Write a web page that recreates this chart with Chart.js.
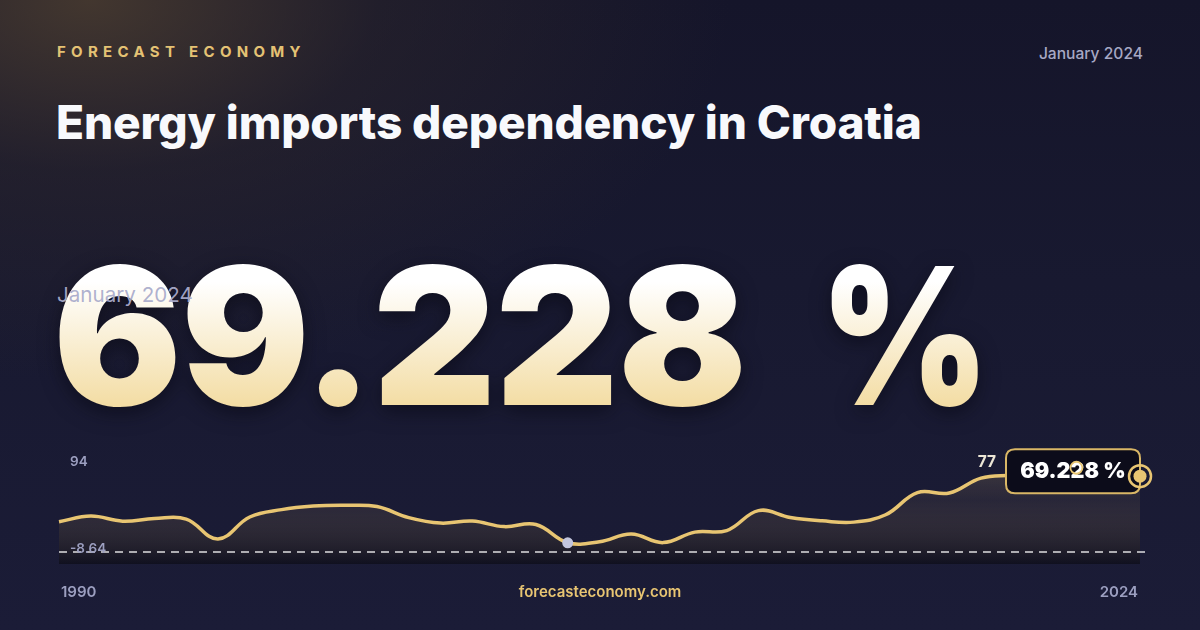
<!DOCTYPE html>
<html>
<head>
<meta charset="utf-8">
<script src="https://cdn.jsdelivr.net/npm/chart.js@4.4.1/dist/chart.umd.min.js"></script>
<style>
  html, body { margin: 0; padding: 0; }
  body { width: 1200px; height: 630px; overflow: hidden; font-family: Inter, "Noto Sans", sans-serif; }
  .card {
    position: relative; width: 1200px; height: 630px; overflow: hidden;
    background:
      radial-gradient(ellipse 640px 380px at 90px 0px, rgba(78, 63, 48, 0.8) 0%, rgba(48, 41, 44, 0.45) 45%, rgba(30, 28, 45, 0) 100%),
      linear-gradient(180deg, #15152a 0%, #181930 45%, #1b1c37 100%);
  }
  .brand { position: absolute; left: 57px; top: 42px; font-size: 15px; font-weight: 700; letter-spacing: 5.3px; color: #e4c274; }
  .date-top { position: absolute; right: 57px; top: 44px; font-size: 15.6px; font-weight: 500; color: #a6a8c4; }
  .title { position: absolute; left: 56px; top: 94px; font-size: 46px; font-weight: 800; color: #f8f9fc; letter-spacing: -0.15px; white-space: nowrap; }
  .big {
    position: absolute; left: 53px; top: 240px; font-size: 191px; font-weight: 900; line-height: 1; letter-spacing: -1px; white-space: nowrap;
    filter: drop-shadow(0 6px 10px rgba(5, 5, 15, 0.55));
  }
  .big span {
    display: inline-block;
    background: linear-gradient(180deg, #ffffff 22%, #f3dca2 88%);
    -webkit-background-clip: text; background-clip: text; color: transparent;
  }
  .big .pct { margin-left: 74px; transform: scaleX(0.85); transform-origin: left center; }
  .date-over { position: absolute; left: 57px; top: 282px; font-size: 20.6px; font-weight: 400; color: rgba(170, 172, 204, 0.95); }
  #chart { position: absolute; left: 0; top: 420px; }
</style>
</head>
<body>
<div class="card">
  <div class="brand">FORECAST ECONOMY</div>
  <div class="date-top">January 2024</div>
  <div class="title">Energy imports dependency in Croatia</div>
  <div class="big"><span>69.228</span><span class="pct">%</span></div>
  <div class="date-over">January 2024</div>
  <canvas id="chart" width="1200" height="200"></canvas>
</div>
<script>
const years = [
  "1990", "1991", "1992", "1993", "1994", "1995", "1996", "1997", "1998", "1999",
  "2000", "2001", "2002", "2003", "2004", "2005", "2006", "2007", "2008", "2009",
  "2010", "2011", "2012", "2013", "2014", "2015", "2016", "2017", "2018", "2019",
  "2020", "2021", "2022", "2023", "2024",
];
const importDependency = [
  27.6, 32.8, 28.2, 30.5, 30.1, 11.9, 32.0, 38.7, 41.9, 42.6,
  41.5, 31.4, 26.4, 28.3, 23.2, 25.1, 8.47, 9.4, 16.4, 8.6,
  18.2, 19.6, 37.8, 31.6, 28.5, 27.3, 34.0, 54.2, 53.8, 67.4,
  70.2, 73.5, 76.89, 72.5, 69.228,
];
const yTickValues = [94, -8.64];
const yTickLabels = ["94", "-8.64"];
const xTickLabels = ["1990", "2024"];
const siteLabel = "forecasteconomy.com";

const GOLD = "#e8c572";
const MUTED = "#9c9fc0";

const lastIdx = importDependency.length - 1;
const maxIdx = importDependency.indexOf(Math.max(...importDependency));
const minIdx = importDependency.indexOf(Math.min(...importDependency));

const roundRect = (ctx, x, y, w, h, r) => {
  ctx.beginPath();
  ctx.moveTo(x + r, y);
  ctx.lineTo(x + w - r, y);
  ctx.quadraticCurveTo(x + w, y, x + w, y + r);
  ctx.lineTo(x + w, y + h - r);
  ctx.quadraticCurveTo(x + w, y + h, x + w - r, y + h);
  ctx.lineTo(x + r, y + h);
  ctx.quadraticCurveTo(x, y + h, x, y + h - r);
  ctx.lineTo(x, y + r);
  ctx.quadraticCurveTo(x, y, x + r, y);
  ctx.closePath();
};

const decorPlugin = {
  id: "decor",
  afterDatasetsDraw(chart) {
    const { ctx, chartArea, scales } = chart;
    const pts = chart.getDatasetMeta(0).data;
    const yScale = scales.y;
    ctx.save();

    // zero line
    const zeroY = yScale.getPixelForValue(0);
    ctx.setLineDash([8, 6]);
    ctx.lineWidth = 1.5;
    ctx.strokeStyle = "rgba(255, 255, 255, 0.85)";
    ctx.beginPath();
    ctx.moveTo(chartArea.left, zeroY);
    ctx.lineTo(chartArea.right + 6, zeroY);
    ctx.stroke();
    ctx.setLineDash([]);

    // range labels
    ctx.font = "600 13.5px Inter, sans-serif";
    ctx.fillStyle = MUTED;
    ctx.textAlign = "left";
    ctx.textBaseline = "middle";
    ctx.fillText(yTickLabels[0], chartArea.left + 11, yScale.getPixelForValue(yTickValues[0]) + 13);
    ctx.fillText(yTickLabels[1], chartArea.left + 11, yScale.getPixelForValue(yTickValues[1]) - 13);

    // year labels + site
    ctx.font = "600 15px Inter, sans-serif";
    ctx.fillText(xTickLabels[0], chartArea.left + 2, 172);
    ctx.textAlign = "right";
    ctx.fillText(xTickLabels[1], chartArea.right - 2, 172);
    ctx.textAlign = "center";
    ctx.fillStyle = GOLD;
    ctx.fillText(siteLabel, chart.width / 2, 172);

    // min marker
    const pMin = pts[minIdx];
    ctx.fillStyle = "#c3c6de";
    ctx.beginPath();
    ctx.arc(pMin.x, pMin.y, 5.5, 0, Math.PI * 2);
    ctx.fill();

    // value box at the end
    const pEnd = pts[lastIdx];
    const boxW = 134;
    const boxH = 44;
    const boxX = pEnd.x - boxW;
    const boxY = pEnd.y - 27;
    roundRect(ctx, boxX, boxY, boxW, boxH, 9);
    ctx.fillStyle = "#0c0c1a";
    ctx.fill();
    ctx.lineWidth = 2;
    ctx.strokeStyle = "#d9b766";
    ctx.stroke();
    ctx.font = "900 21.5px Inter, sans-serif";
    ctx.fillStyle = "#ffffff";
    ctx.textAlign = "center";
    ctx.fillText(importDependency[lastIdx].toFixed(3) + " %", boxX + boxW / 2, boxY + boxH / 2);

    // max label + ring
    const pMax = pts[maxIdx];
    ctx.font = "700 15.5px Inter, sans-serif";
    ctx.fillStyle = "#ece6d6";
    ctx.textAlign = "right";
    ctx.fillText(String(Math.round(importDependency[maxIdx])), boxX - 10, pMax.y - 5);
    ctx.lineWidth = 1.8;
    ctx.strokeStyle = GOLD;
    ctx.beginPath();
    ctx.arc(pMax.x, pMax.y, 6, 0, Math.PI * 2);
    ctx.stroke();

    // end marker
    ctx.fillStyle = GOLD;
    ctx.beginPath();
    ctx.arc(pEnd.x, pEnd.y, 6.5, 0, Math.PI * 2);
    ctx.fill();
    ctx.lineWidth = 2.5;
    ctx.beginPath();
    ctx.arc(pEnd.x, pEnd.y, 11, 0, Math.PI * 2);
    ctx.stroke();

    ctx.restore();
  },
};

const ctx = document.getElementById("chart").getContext("2d");
new Chart(ctx, {
  type: "line",
  data: {
    labels: years,
    datasets: [
      {
        data: importDependency,
        borderColor: GOLD,
        borderWidth: 3.5,
        tension: 0.4,
        pointRadius: 0,
        fill: "start",
        backgroundColor: (c) => {
          const area = c.chart.chartArea;
          if (!area) return "rgba(0,0,0,0)";
          const g = c.chart.ctx.createLinearGradient(0, area.top, 0, area.bottom);
          g.addColorStop(0, "rgba(232, 197, 114, 0.26)");
          g.addColorStop(0.45, "rgba(150, 125, 90, 0.12)");
          g.addColorStop(1, "rgba(8, 8, 14, 0.55)");
          return g;
        },
      },
    ],
  },
  options: {
    responsive: false,
    animation: false,
    layout: { padding: { left: 59, right: 60, top: 29, bottom: 56 } },
    plugins: { legend: { display: false }, tooltip: { enabled: false } },
    scales: {
      x: { display: false },
      y: { display: false, min: -10.9, max: 94 },
    },
  },
  plugins: [decorPlugin],
});
</script>
</body>
</html>
